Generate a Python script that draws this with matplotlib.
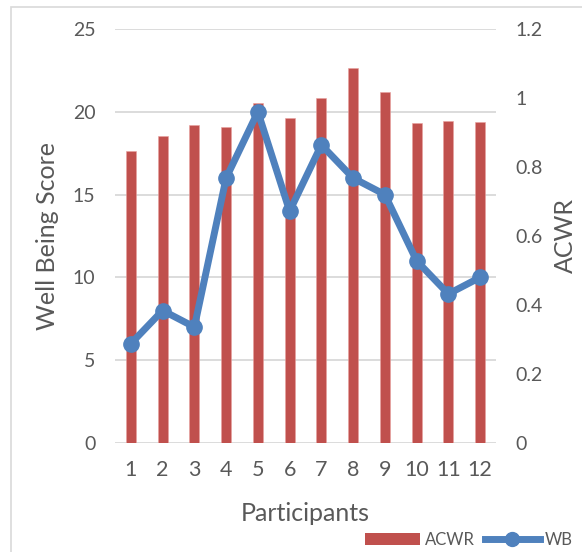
import matplotlib.pyplot as plt
import matplotlib.transforms as mtransforms
from matplotlib.lines import Line2D
from matplotlib.patches import Patch, Rectangle

# Per-participant values
participants = [1, 2, 3, 4, 5, 6, 7, 8, 9, 10, 11, 12]
acwr = [0.846, 0.890, 0.922, 0.917, 0.985, 0.942, 0.999, 1.087, 1.016, 0.928, 0.932, 0.930]
wb = [6, 8, 7, 16, 20, 14, 18, 16, 15, 11, 9, 10]

wb_ticks = [0, 5, 10, 15, 20, 25]
acwr_ticks = [0, 0.2, 0.4, 0.6, 0.8, 1.0, 1.2]
acwr_labels = ["0", "0.2", "0.4", "0.6", "0.8", "1", "1.2"]

BAR_RED = "#C0504D"
LINE_BLUE = "#4F81BD"
TEXT_GREY = "#595959"
GRID_GREY = "#D9D9D9"

plt.rcParams['font.family'] = ['Lato', 'DejaVu Sans']

fig = plt.figure(figsize=(5.82, 5.52), dpi=100)
ax = fig.add_axes([0.1976, 0.1975, 0.6546, 0.75])
ax2 = ax.twinx()

ax.set_xlim(0.5, 12.5)
ax.set_ylim(0, 25)
ax2.set_ylim(0, 1.2)

# gridlines follow the left axis but sit behind the bars
grid_tr = mtransforms.blended_transform_factory(ax2.transAxes, ax.transData)
ax2.hlines(wb_ticks, 0, 1, transform=grid_tr, color=GRID_GREY, linewidth=1.3, zorder=0)

# bars on the right-hand axis, line on the left one
ax2.bar(participants, acwr, width=0.31, color=BAR_RED, edgecolor="#E8A09E", linewidth=0.4, zorder=2)
ax.plot(participants, wb, color=LINE_BLUE, linewidth=5, marker='o', markersize=11, zorder=3)

ax.set_zorder(ax2.get_zorder() + 1)
ax.patch.set_visible(False)

ax.set_yticks(wb_ticks)
ax2.set_yticks(acwr_ticks)
ax2.set_yticklabels(acwr_labels)
ax.set_xticks(participants)

for a in (ax, ax2):
    for s in a.spines.values():
        s.set_visible(False)
    a.tick_params(length=0, colors=TEXT_GREY, labelsize=14)
ax.tick_params(axis='y', pad=14)
ax2.tick_params(axis='y', pad=14)
ax.tick_params(axis='x', pad=12, labelsize=15.5)

ax.set_ylabel("Well Being Score", fontsize=18, color=TEXT_GREY, labelpad=10)
ax2.set_ylabel("ACWR", fontsize=18, color=TEXT_GREY, labelpad=8)
ax.set_xlabel("Participants", fontsize=18, color=TEXT_GREY, labelpad=16)

handles = [Patch(facecolor=BAR_RED, label="ACWR"),
           Line2D([0], [0], color=LINE_BLUE, lw=5, marker='o', markersize=10, label="WB")]
fig.legend(handles=handles, loc='lower right', bbox_to_anchor=(1.01, -0.02), ncol=2,
           frameon=False, fontsize=12, labelcolor=TEXT_GREY, handlelength=3.3,
           handletextpad=0.3, columnspacing=0.6)

# outer chart frame
fig.add_artist(Rectangle((11 / 582, -0.1), 1.2, 1.1 - 7 / 552, transform=fig.transFigure,
                         fill=False, edgecolor=GRID_GREY, linewidth=1.2))

fig.savefig("out.png", dpi=100)
